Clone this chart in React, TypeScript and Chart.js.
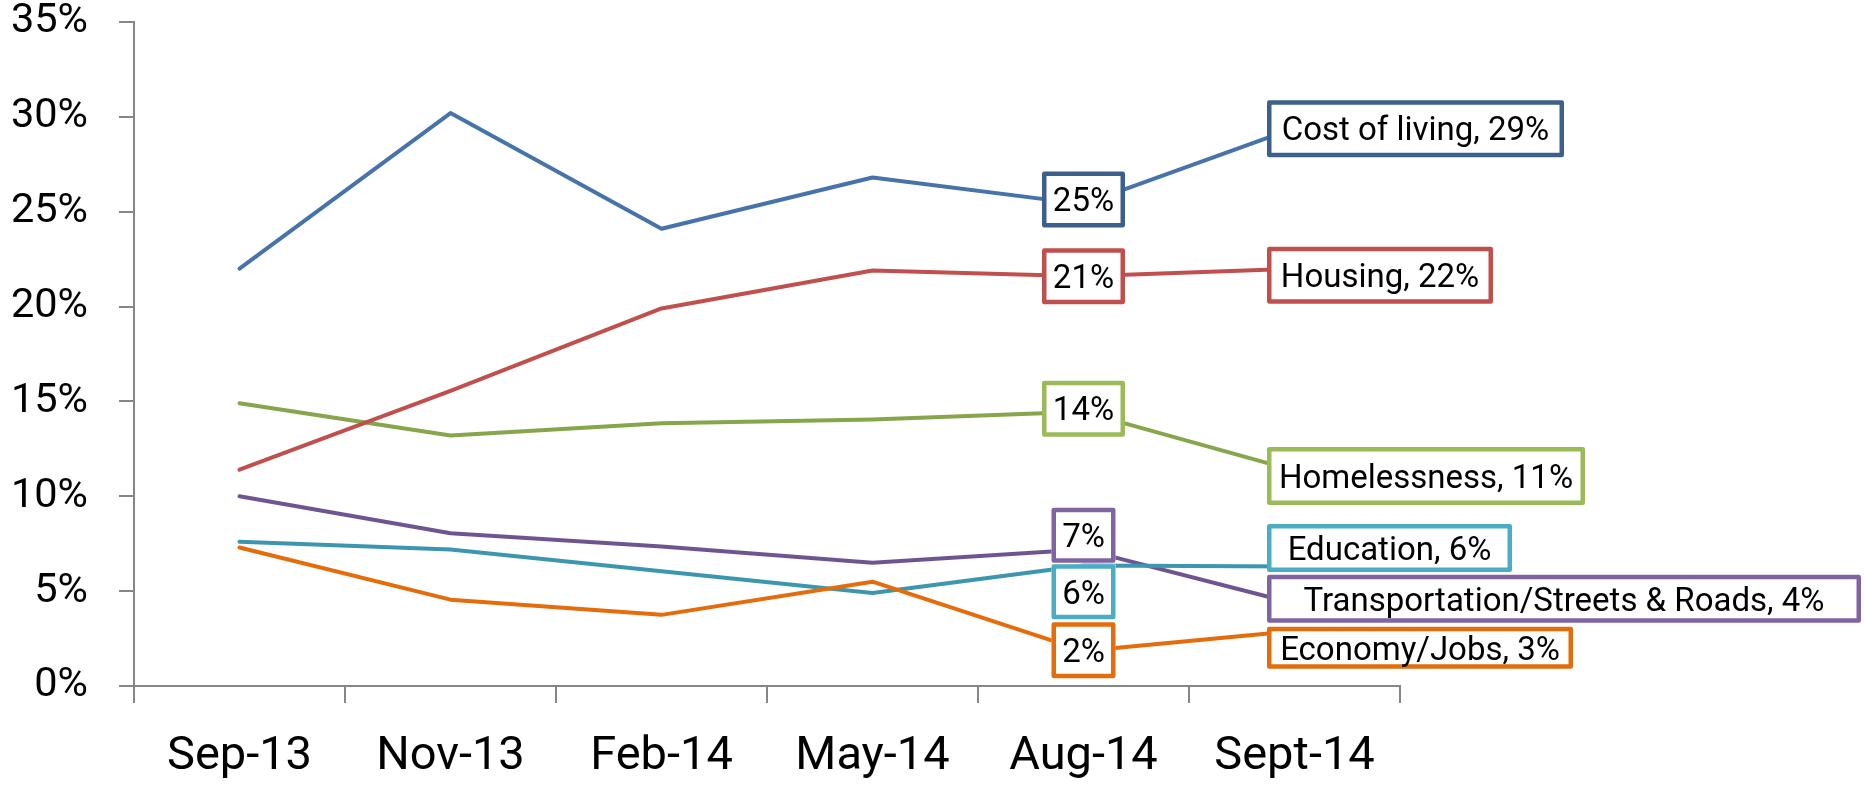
import React, { useEffect, useRef } from 'react';
import { Chart, registerables } from 'chart.js';

Chart.register(...registerables);

// ---------- data ----------
const categories = ['Sep-13', 'Nov-13', 'Feb-14', 'May-14', 'Aug-14', 'Sept-14'];
const seriesNames = [
  'Cost of living',
  'Housing',
  'Homelessness',
  'Education',
  'Transportation/Streets & Roads',
  'Economy/Jobs',
];
const costOfLiving = [22.0, 30.2, 24.1, 26.8, 25.4, 29.4];
const housing = [11.4, 15.55, 19.9, 21.9, 21.6, 22.0];
const homelessness = [14.9, 13.2, 13.85, 14.05, 14.45, 11.35];
const education = [7.6, 7.2, 6.05, 4.9, 6.35, 6.3];
const transportation = [10.0, 8.05, 7.35, 6.5, 7.2, 4.35];
const economy = [7.3, 4.55, 3.75, 5.5, 1.85, 2.9];
const augLabels = ['25%', '21%', '14%', '6%', '7%', '2%'];
const septLabels = ['29%', '22%', '11%', '6%', '4%', '3%'];
const yMin = 0;
const yMax = 35;
const yStep = 5;

// ---------- styles ----------
const lineColors = ['#4673AA', '#C0504D', '#87A54B', '#3C96AF', '#6E5591', '#E46C0A'];
const boxColors = ['#3C5F8C', '#C0504D', '#9BBB59', '#4BACC6', '#8064A2', '#E46C0A'];
const drawOrder = [0, 0, 0, 0, 0, -1];
const augBox = [
  { dy: -4.6, w: 83, h: 56 },
  { dy: 0, w: 83, h: 56 },
  { dy: -3.2, w: 83, h: 56 },
  { dy: 26.3, w: 64, h: 55 },
  { dy: -14.2, w: 64, h: 55 },
  { dy: -0.6, w: 64, h: 56 },
];
const septBox = [
  { dy: 0.4, w: 297, h: 57 },
  { dy: 6.7, w: 226, h: 57 },
  { dy: 5.4, w: 318, h: 58 },
  { dy: -18.6, w: 245, h: 48 },
  { dy: -4.7, w: 594, h: 48 },
  { dy: 16.8, w: 306, h: 42 },
];
const axisColor = '#868686';
const FONT = 'Roboto, "Open Sans", sans-serif';

function drawBox(ctx: CanvasRenderingContext2D, x: number, y: number, w: number, h: number, text: string, color: string) {
  ctx.save();
  ctx.fillStyle = '#ffffff';
  ctx.fillRect(x, y, w, h);
  ctx.lineWidth = 4.5;
  ctx.strokeStyle = color;
  ctx.lineJoin = 'round';
  ctx.strokeRect(x + 2.25, y + 2.25, w - 4.5, h - 4.5);
  const size = 33;
  ctx.font = `${size}px ${FONT}`;
  ctx.fillStyle = '#000000';
  ctx.textAlign = 'center';
  ctx.textBaseline = 'alphabetic';
  const tw = ctx.measureText(text).width;
  const sx = Math.min(1, (w - 16) / tw);
  ctx.translate(x + w / 2, y + h / 2 + (0.711 * size) / 2);
  ctx.scale(sx, 1);
  ctx.fillText(text, 0, 0);
  ctx.restore();
}

const boxLabelPlugin = {
  id: 'boxLabels',
  afterDatasetsDraw(chart: any) {
    const ctx = chart.ctx as CanvasRenderingContext2D;
    chart.data.datasets.forEach((_ds: any, i: number) => {
      const meta = chart.getDatasetMeta(i);
      const p4 = meta.data[4];
      const p5 = meta.data[5];
      const a = augBox[i];
      drawBox(ctx, p4.x - a.w / 2, p4.y + a.dy - a.h / 2, a.w, a.h, augLabels[i], boxColors[i]);
      const s = septBox[i];
      drawBox(ctx, p5.x - 27.5, p5.y + s.dy - s.h / 2, s.w, s.h, `${seriesNames[i]}, ${septLabels[i]}`, boxColors[i]);
    });
  },
};

export default function App() {
  const canvasRef = useRef<HTMLCanvasElement | null>(null);

  useEffect(() => {
    document.body.style.margin = '0';
    const canvas = canvasRef.current;
    if (!canvas) return;
    const series = [costOfLiving, housing, homelessness, education, transportation, economy];
    const chart = new Chart(canvas, {
      type: 'line',
      data: {
        labels: categories,
        datasets: series.map((d, i) => ({
          label: seriesNames[i],
          data: d,
          borderColor: lineColors[i],
          backgroundColor: lineColors[i],
          borderWidth: 4,
          pointRadius: 0,
          pointHoverRadius: 0,
          tension: 0,
          fill: false,
          clip: false as any,
          borderCapStyle: 'round' as const,
          borderJoinStyle: 'round' as const,
          order: drawOrder[i],
        })),
      },
      options: {
        responsive: false,
        animation: false,
        devicePixelRatio: 1,
        layout: { padding: { top: 22, right: 464, left: 0, bottom: 0 } },
        plugins: {
          legend: { display: false },
          tooltip: { enabled: false },
        },
        events: [],
        scales: {
          x: {
            type: 'category',
            offset: true,
            grid: {
              offset: true,
              drawOnChartArea: false,
              drawTicks: true,
              tickLength: 17,
              color: axisColor,
              lineWidth: 2,
            },
            border: { display: true, color: axisColor, width: 2 },
            ticks: {
              font: { family: FONT, size: 47 },
              color: '#000000',
              padding: 26,
              maxRotation: 0,
              autoSkip: false,
            },
            afterFit: (s: any) => {
              s.height = 99;
              s.paddingLeft = 0;
              s.paddingRight = 0;
            },
          },
          y: {
            min: yMin,
            max: yMax,
            ticks: {
              stepSize: yStep,
              callback: (v: any) => `${v}%`,
              font: { family: FONT, size: 41.5 },
              color: '#000000',
              padding: 31,
            },
            grid: {
              drawOnChartArea: false,
              drawTicks: true,
              tickLength: 15,
              color: axisColor,
              lineWidth: 2,
            },
            border: { display: true, color: axisColor, width: 2 },
            afterFit: (s: any) => {
              s.width = 134;
              s.paddingTop = 0;
              s.paddingBottom = 0;
            },
          },
        },
      },
      plugins: [boxLabelPlugin],
    });
    return () => chart.destroy();
  }, []);

  return (
    <div style={{ position: 'absolute', left: 0, top: 0, width: 1864, height: 785, background: '#ffffff' }}>
      <canvas ref={canvasRef} width={1864} height={785} style={{ display: 'block', width: 1864, height: 785 }} />
    </div>
  );
}
